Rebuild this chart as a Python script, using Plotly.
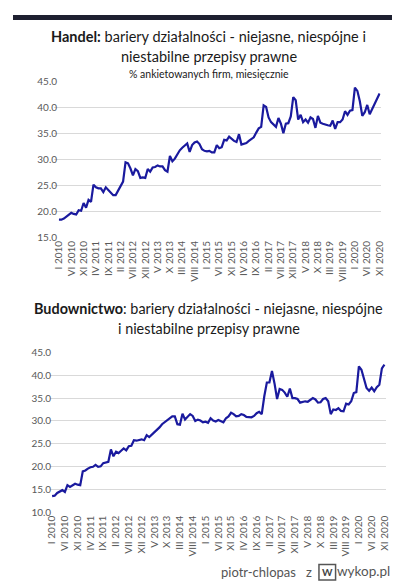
import plotly.graph_objects as go

# --- data -----------------------------------------------------------------
months = list(range(131))  # I 2010 .. XI 2020, monthly

handel = [
    18.5, 18.5, 18.7, 19.1, 19.5, 19.8, 19.6, 19.5, 20.3, 20.2,
    21.7, 20.8, 22.3, 21.9, 25.2, 24.7, 24.5, 24.5, 23.8, 24.7,
    24.2, 23.6, 23.2, 23.2, 24.0, 24.8, 25.8, 29.5, 29.3, 28.3,
    27.0, 28.2, 27.8, 26.5, 26.6, 26.5, 28.2, 27.7, 28.5, 28.6,
    28.9, 28.7, 28.7, 28.0, 27.7, 30.7, 29.7, 30.2, 31.0, 31.8,
    32.3, 32.7, 33.1, 31.5, 32.8, 33.3, 33.5, 33.0, 32.0, 31.7,
    31.6, 31.7, 31.4, 31.4, 32.8, 32.2, 32.4, 33.8, 33.7, 34.4,
    33.9, 33.6, 33.4, 34.9, 32.9, 33.0, 33.2, 33.6, 33.9, 34.3,
    35.2, 36.0, 36.3, 40.4, 40.1, 38.1, 37.2, 36.7, 36.3, 38.0,
    36.9, 35.1, 36.9, 37.0, 38.3, 42.0, 41.4, 37.7, 38.6, 37.2,
    37.7, 37.1, 38.1, 37.8, 36.1, 38.4, 37.1, 36.9, 36.7, 36.6,
    36.5, 37.5, 35.9, 37.2, 37.2, 37.7, 39.3, 38.6, 39.4, 39.5,
    43.8, 43.2, 41.2, 38.4, 39.1, 40.5, 38.7, 39.7, 40.5, 41.5,
    42.7,
]

budownictwo = [
    13.6, 13.7, 14.3, 14.7, 14.9, 14.5, 16.0, 15.6, 16.0, 16.3,
    16.1, 16.0, 19.0, 19.2, 19.6, 19.9, 20.0, 20.4, 20.0, 20.1,
    20.8, 20.9, 21.1, 23.8, 22.3, 23.3, 23.0, 23.5, 24.0, 23.6,
    24.5, 24.6, 25.8, 25.7, 25.8, 26.0, 25.8, 26.9, 26.5, 27.0,
    27.6, 28.2, 28.6, 29.3, 29.7, 30.2, 30.6, 31.0, 31.0, 29.3,
    29.2, 31.6, 30.3, 30.9, 31.5, 31.1, 30.0, 30.3, 30.1, 29.7,
    29.85, 29.6, 30.6, 30.1, 29.9, 30.2, 30.0, 29.7, 30.6, 31.0,
    31.8, 31.5, 31.0, 31.1, 31.5, 31.3, 30.9, 30.8, 30.8, 31.1,
    31.7, 32.0, 31.5, 35.4, 38.4, 38.4, 40.9, 38.2, 34.8, 37.0,
    36.8, 36.2, 35.3, 37.1, 35.0, 35.0, 34.8, 34.0, 34.1, 34.3,
    34.2, 34.7, 35.0, 34.7, 34.0, 34.1, 34.8, 35.0, 34.3, 31.5,
    32.5, 32.4, 32.8, 32.2, 32.1, 33.8, 33.6, 34.3, 36.1, 36.3,
    41.9, 41.2, 39.3, 37.2, 36.6, 37.3, 36.5, 37.4, 37.9, 41.5,
    42.3,
]

tick_labels = [
    "I 2010", "VI 2010", "XI 2010", "IV 2011", "IX 2011", "II 2012",
    "VII 2012", "XII 2012", "V 2013", "X 2013", "III 2014", "VIII 2014",
    "I 2015", "VI 2015", "XI 2015", "IV 2016", "IX 2016", "II 2017",
    "VII 2017", "XII 2017", "V 2018", "X 2018", "III 2019", "VIII 2019",
    "I 2020", "VI 2020", "XI 2020",
]
tick_vals = list(range(0, 131, 5))

assert len(handel) == 131 and len(budownictwo) == 131

W, H = 400, 581
FONT = "Lato"
LINE = "#1a1a9e"
GRID = "#d9d9d9"
TXT = "#595959"


def px(x):
    return x / W


def py(y):
    return 1 - y / H


fig = go.Figure()
fig.add_trace(go.Scatter(x=months, y=handel, mode="lines",
                         line=dict(color=LINE, width=2.2),
                         xaxis="x", yaxis="y", hoverinfo="skip"))
fig.add_trace(go.Scatter(x=months, y=budownictwo, mode="lines",
                         line=dict(color=LINE, width=2.2),
                         xaxis="x2", yaxis="y2", hoverinfo="skip"))

common_x = dict(tickmode="array", tickvals=tick_vals, ticktext=tick_labels,
                tickangle=-90, showgrid=False, zeroline=False, showline=False,
                ticks="", ticklen=0, ticklabelstandoff=0,
                tickfont=dict(family=FONT, size=10, color=TXT))
common_y = dict(showgrid=True, gridcolor=GRID, gridwidth=1, zeroline=False,
                showline=False, ticks="", ticklen=0, tickformat=".1f",
                tickfont=dict(family=FONT, size=10, color=TXT))

# top chart: plot area x 42..376, y 68..228
fig.update_layout(
    xaxis=dict(common_x, domain=[px(42), px(376)], anchor="y",
               range=[-5 / 2.523, 130 + 1 / 2.523]),
    yaxis=dict(common_y, domain=[py(228), py(68)], anchor="x",
               range=[15, 45], tickvals=[15, 20, 25, 30, 35, 40, 45],
               ticklabelstandoff=-4),
    xaxis2=dict(common_x, domain=[px(38), px(382)], anchor="y2",
                range=[-2 / 2.615, 130 + 2 / 2.615]),
    yaxis2=dict(common_y, domain=[py(509), py(345)], anchor="x2",
                range=[10, 45], tickvals=[10, 15, 20, 25, 30, 35, 40, 45],
                ticklabelstandoff=-2),
)

annotations = [
    dict(x=0.5, y=py(22), text="<b>Handel:</b> bariery działalności - niejasne, niespójne i",
         font=dict(size=14.5, color="#1a1a1a")),
    dict(x=0.5, y=py(42), text="niestabilne przepisy prawne",
         font=dict(size=14.5, color="#1a1a1a")),
    dict(x=0.5, y=py(60), text="% ankietowanych firm, miesięcznie",
         font=dict(size=10.5, color="#1a1a1a")),
    dict(x=0.5, y=py(300), text="<b>Budownictwo</b>: bariery działalności - niejasne, niespójne",
         font=dict(size=14.4, color="#1a1a1a")),
    dict(x=0.5, y=py(321), text="i niestabilne przepisy prawne",
         font=dict(size=14.4, color="#1a1a1a")),
    dict(x=px(292), y=py(570), text="piotr-chlopas", xanchor="right",
         font=dict(size=13, color="#555555")),
    dict(x=px(303), y=py(570), text="z", xanchor="center",
         font=dict(size=13, color="#555555")),
    dict(x=px(321.5), y=py(570), text="<b>W</b>", xanchor="center",
         font=dict(size=10, color="#444444")),
    dict(x=px(359), y=py(569), text="wykop.pl", xanchor="center",
         font=dict(size=13.5, color="#555555")),
]
for a in annotations:
    a.update(xref="paper", yref="paper", showarrow=False, yanchor="middle")
    a.setdefault("xanchor", "center")
    a["font"]["family"] = FONT

shapes = [
    dict(type="rect", xref="paper", yref="paper", x0=0, x1=1, y0=py(5), y1=1,
         fillcolor="#1e2030", line=dict(width=0)),
    dict(type="rect", xref="paper", yref="paper", x0=px(313), x1=px(330),
         y0=py(578), y1=py(562), fillcolor="rgba(0,0,0,0)",
         line=dict(color="#555555", width=1.5)),
]

fig.update_layout(
    width=W, height=H, margin=dict(l=0, r=0, t=0, b=0),
    paper_bgcolor="white", plot_bgcolor="white",
    showlegend=False, annotations=annotations, shapes=shapes,
    font=dict(family=FONT),
)

fig.write_html("out.html", config={"displayModeBar": False})
